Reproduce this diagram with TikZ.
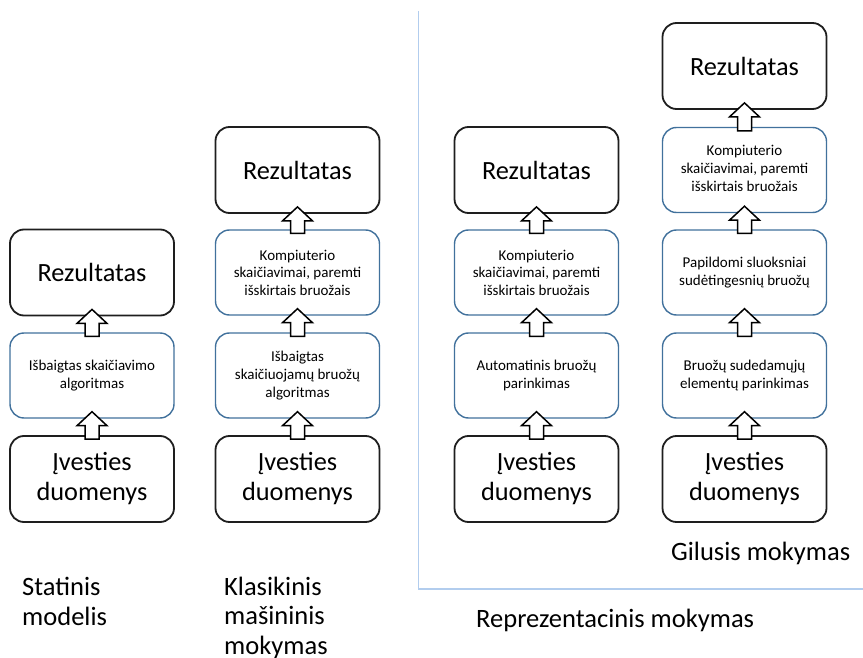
\documentclass[tikz,border=0pt]{standalone}
\usepackage{fontspec}
\setmainfont{Carlito}
\usetikzlibrary{calc}

% hollow up-arrow from the top of box #1 to the bottom of box #2
\newcommand{\liftarrow}[2]{%
  \draw[hollowarrow]
    ($(#1.north)+(-7pt,-4pt)$) --
    ($(#2.south)+(-7pt,-7pt)$) --
    ($(#2.south)+(-15pt,-7pt)$) --
    ($(#2.south)+(0pt,7pt)$) --
    ($(#2.south)+(15pt,-7pt)$) --
    ($(#2.south)+(7pt,-7pt)$) --
    ($(#1.north)+(7pt,-4pt)$) -- cycle;}

\definecolor{stepblue}{RGB}{65,113,156}
\definecolor{framegrey}{RGB}{30,30,30}
\definecolor{panelline}{RGB}{178,205,238}

\tikzset{
  bigbox/.style={draw=framegrey, line width=1.8pt, rounded corners=14pt,
    minimum width=164pt, minimum height=86pt, fill=white, align=center,
    font=\fontsize{26.3}{30}\selectfont, inner sep=0pt},
  stepbox/.style={draw=stepblue, line width=1.4pt, rounded corners=14pt,
    minimum width=164pt, minimum height=85pt, fill=white, align=center,
    font=\fontsize{15}{17.6}\selectfont, inner sep=0pt},
  hollowarrow/.style={draw=black, fill=white, line width=1.5pt, line join=miter},
  caption/.style={anchor=base west, align=left, inner sep=0pt,
    font=\fontsize{26.5}{29.2}\selectfont},
  panel/.style={draw=panelline, line width=1.3pt}
}

\begin{document}
\begin{tikzpicture}[x=1pt, y=-1pt]
  \useasboundingbox (0,0) rectangle (863,658);

  % frame around the representation-learning group
  \coordinate (ptop) at (418.5,11);
  \coordinate (pcorner) at (418.5,589);
  \coordinate (pright) at (863,589);
  \draw[panel] (ptop) -- (pcorner) -- (pright);

  % column 1: static model
  \node[bigbox] (in1) at (92,479) {Įvesties\\duomenys};
  \node[stepbox] (a1) at (92,375.5) {Išbaigtas skaičiavimo\\algoritmas};
  \node[bigbox] (r1) at (92,272.5) {Rezultatas};

  % column 2: classical machine learning
  \node[bigbox] (in2) at (297.5,479) {Įvesties\\duomenys};
  \node[stepbox] (a2) at (297.5,375.5) {Išbaigtas\\skaičiuojamų bruožų\\algoritmas};
  \node[stepbox] (b2) at (297.5,272.5) {Kompiuterio\\skaičiavimai, paremti\\išskirtais bruožais};
  \node[bigbox] (r2) at (297.5,170) {Rezultatas};

  % column 3: representation learning
  \node[bigbox] (in3) at (536.5,479) {Įvesties\\duomenys};
  \node[stepbox] (a3) at (536.5,375.5) {Automatinis bruožų\\parinkimas};
  \node[stepbox] (b3) at (536.5,272.5) {Kompiuterio\\skaičiavimai, paremti\\išskirtais bruožais};
  \node[bigbox] (r3) at (536.5,170) {Rezultatas};

  % column 4: deep learning
  \node[bigbox] (in4) at (744.5,479) {Įvesties\\duomenys};
  \node[stepbox] (a4) at (744.5,375.5) {Bruožų sudedamųjų\\elementų parinkimas};
  \node[stepbox] (b4) at (744.5,272.5) {Papildomi sluoksniai\\sudėtingesnių bruožų};
  \node[stepbox] (c4) at (744.5,170) {\raisebox{6pt}{\begin{tabular}{@{}c@{}}Kompiuterio\\skaičiavimai, paremti\\išskirtais bruožais\end{tabular}}};
  \node[bigbox] (r4) at (744.5,66) {Rezultatas};

  % arrows
  \liftarrow{in1}{a1}
  \liftarrow{a1}{r1}
  \liftarrow{in2}{a2}
  \liftarrow{a2}{b2}
  \liftarrow{b2}{r2}
  \liftarrow{in3}{a3}
  \liftarrow{a3}{b3}
  \liftarrow{b3}{r3}
  \liftarrow{in4}{a4}
  \liftarrow{a4}{b4}
  \liftarrow{b4}{c4}
  \liftarrow{c4}{r4}

  % captions (base anchor sits on the last line)
  \node[caption] (t1) at (22,625) {Statinis\\modelis};
  \node[caption] (t2) at (224,654) {Klasikinis\\mašininis\\mokymas};
  \node[caption] (t3) at (476,627) {Reprezentacinis mokymas};
  \node[caption] (t4) at (671,560) {Gilusis mokymas};
\end{tikzpicture}
\end{document}
